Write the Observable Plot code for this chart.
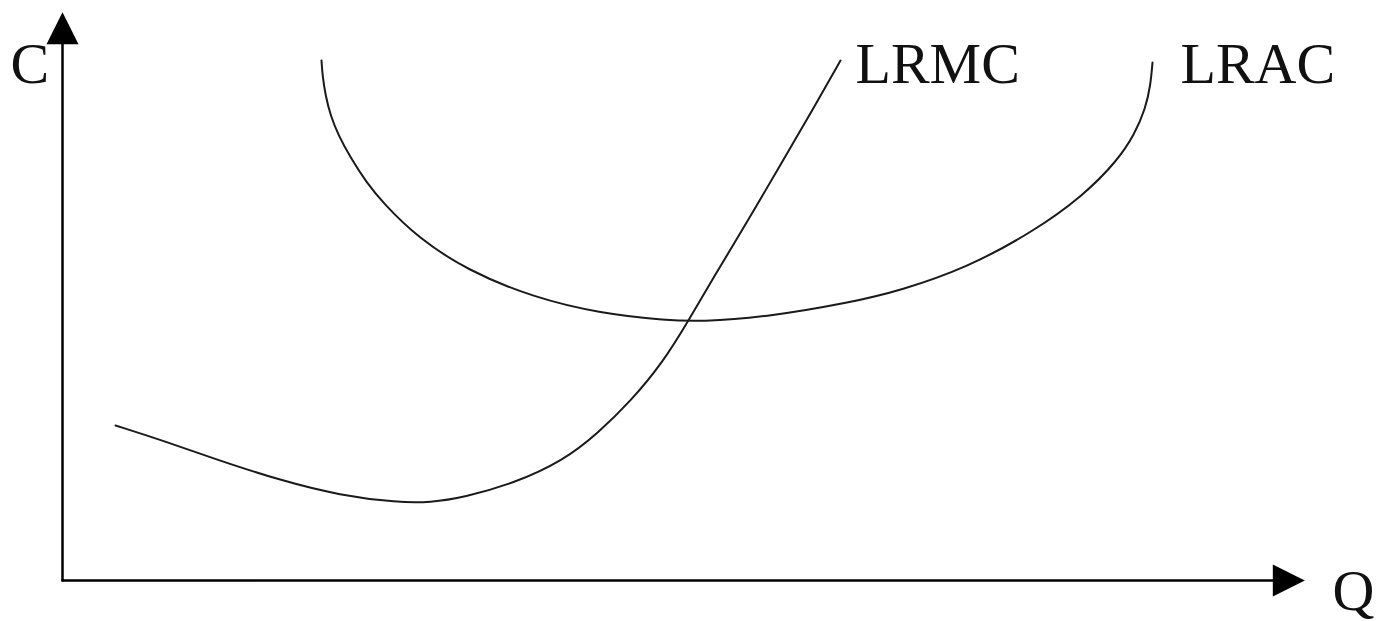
<!DOCTYPE html>
<html>
<head>
<meta charset="utf-8">
<script src="https://cdn.jsdelivr.net/npm/d3@7"></script>
<script src="https://cdn.jsdelivr.net/npm/@observablehq/plot@0.6"></script>
<style>
  html, body { margin: 0; padding: 0; background: #fff; }
  #chart svg { display: block; }
</style>
</head>
<body>
<div id="chart"></div>
<script>
// Diagram coordinates: q = quantity (left→right), c = cost measured downward from the top (screen-like)
const lracQ = [321, 322, 325, 330, 338, 350, 366, 383, 417, 467, 533, 600, 667, 700, 763, 850, 900, 967, 1033, 1083, 1117, 1134, 1145, 1150, 1152];
const lracC = [60, 75, 95, 115, 135, 157, 182, 203, 237, 270, 297, 313, 320, 321, 317, 302, 290, 267, 231, 195, 160, 134, 108, 85, 62];

const lrmcQ = [115, 165, 213, 280, 340, 397, 430, 463, 513, 563, 597, 630, 663, 688, 713, 747, 780, 813, 840];
const lrmcC = [425, 441, 458, 480, 495, 502, 502, 497, 483, 460, 433, 401, 361, 320, 277, 221, 164, 108, 60];

const axisOriginQ = 62, axisOriginC = 580;
const axisEndQ = 1278, axisEndC = 38;

const labelText = ["C", "LRMC", "LRAC", "Q"];
const labelQ = [10, 855, 1180, 1332];
const labelC = [82, 82, 82, 609];

const lrac = lracQ.map((q, i) => ({q, c: lracC[i]}));
const lrmc = lrmcQ.map((q, i) => ({q, c: lrmcC[i]}));
const labels = labelText.map((t, i) => ({t, q: labelQ[i], c: labelC[i]}));
const axes = [
  {q: axisOriginQ, c: axisEndC, g: "y"}, {q: axisOriginQ, c: axisOriginC, g: "y"},
  {q: axisOriginQ, c: axisOriginC, g: "x"}, {q: axisEndQ, c: axisOriginC, g: "x"}
];
const heads = [
  {q: axisOriginQ, c: 33, rot: 0},
  {q: 1283, c: axisOriginC, rot: 90}
];

// isosceles arrowhead symbol, centered on its centroid, pointing up
const arrowHead = {
  draw(context, size) {
    const k = Math.sqrt(size / Math.PI);
    context.moveTo(0, -k * 4 / 3);
    context.lineTo(k, k * 2 / 3);
    context.lineTo(-k, k * 2 / 3);
    context.closePath();
  }
};

const chart = Plot.plot({
  width: 1376,
  height: 621,
  margin: 0,
  x: {domain: [0, 1376], axis: null},
  y: {domain: [621, 0], axis: null},
  style: {background: "#fff"},
  marks: [
    Plot.line(axes, {x: "q", y: "c", z: "g", stroke: "#000", strokeWidth: 2.5}),
    Plot.dot(heads, {x: "q", y: "c", symbol: arrowHead, r: 16, fill: "#000", stroke: "none", rotate: "rot"}),
    Plot.line(lrac, {x: "q", y: "c", curve: "basis", stroke: "#1a1a1a", strokeWidth: 2}),
    Plot.line(lrmc, {x: "q", y: "c", curve: "basis", stroke: "#1a1a1a", strokeWidth: 2}),
    Plot.text(labels, {x: "q", y: "c", text: "t", textAnchor: "start", lineAnchor: "bottom",
      fontFamily: "'Liberation Serif', 'Times New Roman', serif", fontSize: 58, fill: "#111"})
  ]
});
document.getElementById("chart").appendChild(chart);
</script>
</body>
</html>
